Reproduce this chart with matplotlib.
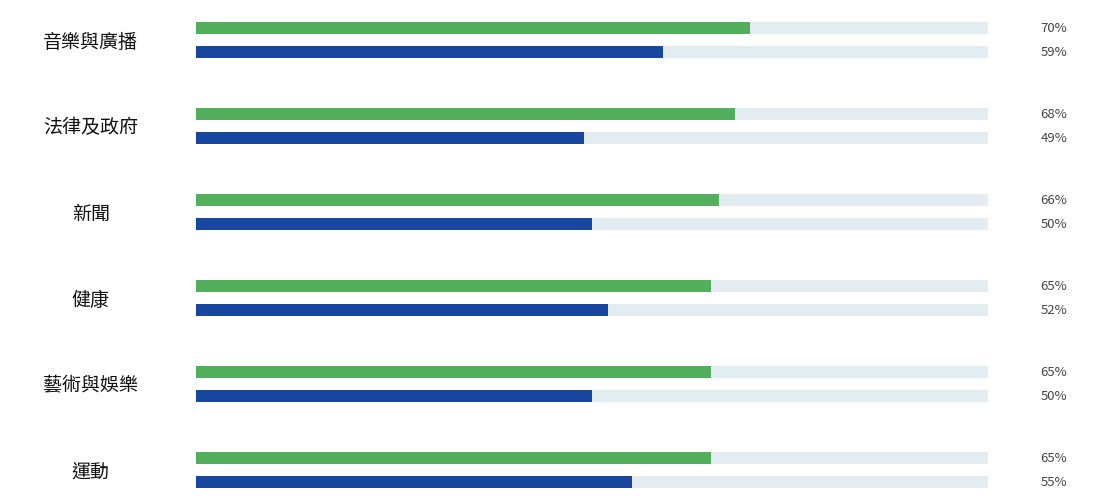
import matplotlib
matplotlib.use("Agg")
import matplotlib.pyplot as plt

plt.rcParams['font.family'] = ['Noto Sans CJK TC', 'DejaVu Sans']

categories = ["音樂與廣播", "法律及政府", "新聞", "健康", "藝術與娛樂", "運動"]
green_vals = [70, 68, 66, 65, 65, 65]
blue_vals = [59, 49, 50, 52, 50, 55]

GREEN = "#52b05c"
BLUE = "#17479e"
TRACK = "#e3ecf1"

W, H = 1096, 503
fig = plt.figure(figsize=(W / 100, H / 100), dpi=100)
left_px, right_px = 196, 988
ax = fig.add_axes([left_px / W, 0, (right_px - left_px) / W, 1])
ax.set_xlim(0, 100)
ax.set_ylim(H, 0)
ax.axis("off")

pitch = 86
bar_h = 12
for i, cat in enumerate(categories):
    yg = 28 + pitch * i
    yb = 52 + pitch * i
    for y, v, c in [(yg, green_vals[i], GREEN), (yb, blue_vals[i], BLUE)]:
        ax.barh(y, 100, height=bar_h, color=TRACK, linewidth=0)
        ax.barh(y, v, height=bar_h, color=c, linewidth=0)
        ax.text(110.0, y, f"{v}%", ha="right", va="center", fontsize=9.5,
                color="#444444", clip_on=False)
    ax.text(-13.3, (yg + yb) / 2 + 2, cat, ha="center", va="center", fontsize=13.7,
            color="#111111", clip_on=False)

fig.savefig("out.png", dpi=100)
